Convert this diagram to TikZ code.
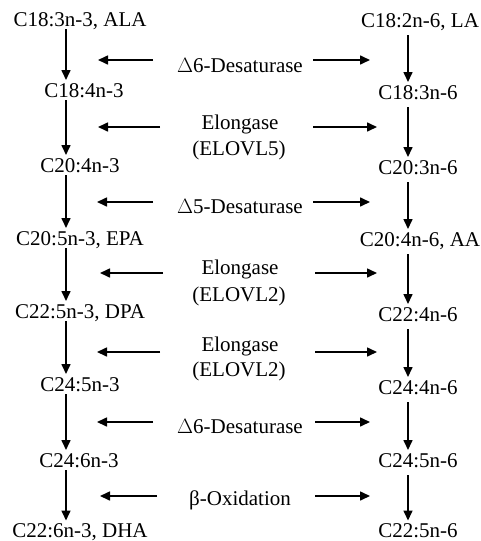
\documentclass[tikz,border=0pt]{standalone}
\usepackage{fontspec}
\setmainfont{Liberation Serif}
\usetikzlibrary{arrows.meta}
\begin{document}
\begin{tikzpicture}[x=1pt,y=-1pt,
  lbl/.style={anchor=base,inner sep=0pt,outer sep=0pt,font=\fontsize{21}{25}\selectfont,text height=14pt,text depth=3pt},
  arr/.style={line width=1.6pt,-{Triangle[length=10pt,width=9pt]}},
  varrL/.style={arr,shorten <=0pt,shorten >=3pt},
  varrR/.style={arr,shorten <=5pt,shorten >=3pt}]
\useasboundingbox (0,0) rectangle (480,541);
% columns
\coordinate (lx) at (66,0);
\coordinate (rx) at (408,0);
% left column
\node[lbl] (L1) at (80,26) {C18:3n-3, ALA};
\node[lbl] (L2) at (84,97) {C18:4n-3};
\node[lbl] (L3) at (80,172) {C20:4n-3};
\node[lbl] (L4) at (80,245) {C20:5n-3, EPA};
\node[lbl] (L5) at (80,318) {C22:5n-3, DPA};
\node[lbl] (L6) at (80,391) {C24:5n-3};
\node[lbl] (L7) at (79,467) {C24:6n-3};
\node[lbl] (L8) at (80,537.5) {C22:6n-3, DHA};
% right column
\node[lbl] (R1) at (420,27) {C18:2n-6, LA};
\node[lbl] (R2) at (418,99) {C18:3n-6};
\node[lbl] (R3) at (418,174) {C20:3n-6};
\node[lbl] (R4) at (420,246) {C20:4n-6, AA};
\node[lbl] (R5) at (418,321) {C22:4n-6};
\node[lbl] (R6) at (418,394) {C24:4n-6};
\node[lbl] (R7) at (418,467) {C24:5n-6};
\node[lbl] (R8) at (418,537.5) {C22:5n-6};
% vertical arrows
\foreach \a/\b in {L1/L2,L2/L3,L3/L4,L4/L5,L5/L6,L6/L7,L7/L8}
  \draw[varrL] (\a.south -| lx) -- (\b.north -| lx);
\foreach \a/\b in {R1/R2,R2/R3,R3/R4,R4/R5,R5/R6,R6/R7,R7/R8}
  \draw[varrR] (\a.south -| rx) -- (\b.north -| rx);
% enzyme labels
\node[lbl] (M1) at (240,72.5) {$\Delta$6-Desaturase};
\node[lbl] (M2a) at (240,129) {Elongase};
\node[lbl] (M2b) at (239,155) {(ELOVL5)};
\node[lbl] (M3) at (240,213) {$\Delta$5-Desaturase};
\node[lbl] (M4a) at (240,274) {Elongase};
\node[lbl] (M4b) at (239,301) {(ELOVL2)};
\node[lbl] (M5a) at (240,351) {Elongase};
\node[lbl] (M5b) at (239,376) {(ELOVL2)};
\node[lbl] (M6) at (240,433) {$\Delta$6-Desaturase};
\node[lbl] (M7) at (240,505) {β-Oxidation};
% horizontal arrows
\foreach \n/\y/\ls/\lt/\rs/\rt in {1/60/153/98/313/370, 2/127/160/98/313/377, 3/202/153/97/313/370, 4/273/163/100/315/377, 5/352/160/97/315/377, 6/422/153/97/315/370, 7/496/157/100/315/370}{
  \coordinate (hl\n s) at (\ls,\y);
  \coordinate (hl\n t) at (\lt,\y);
  \coordinate (hr\n s) at (\rs,\y);
  \coordinate (hr\n t) at (\rt,\y);
  \draw[arr] (hl\n s) -- (hl\n t);
  \draw[arr] (hr\n s) -- (hr\n t);
}
\end{tikzpicture}
\end{document}
